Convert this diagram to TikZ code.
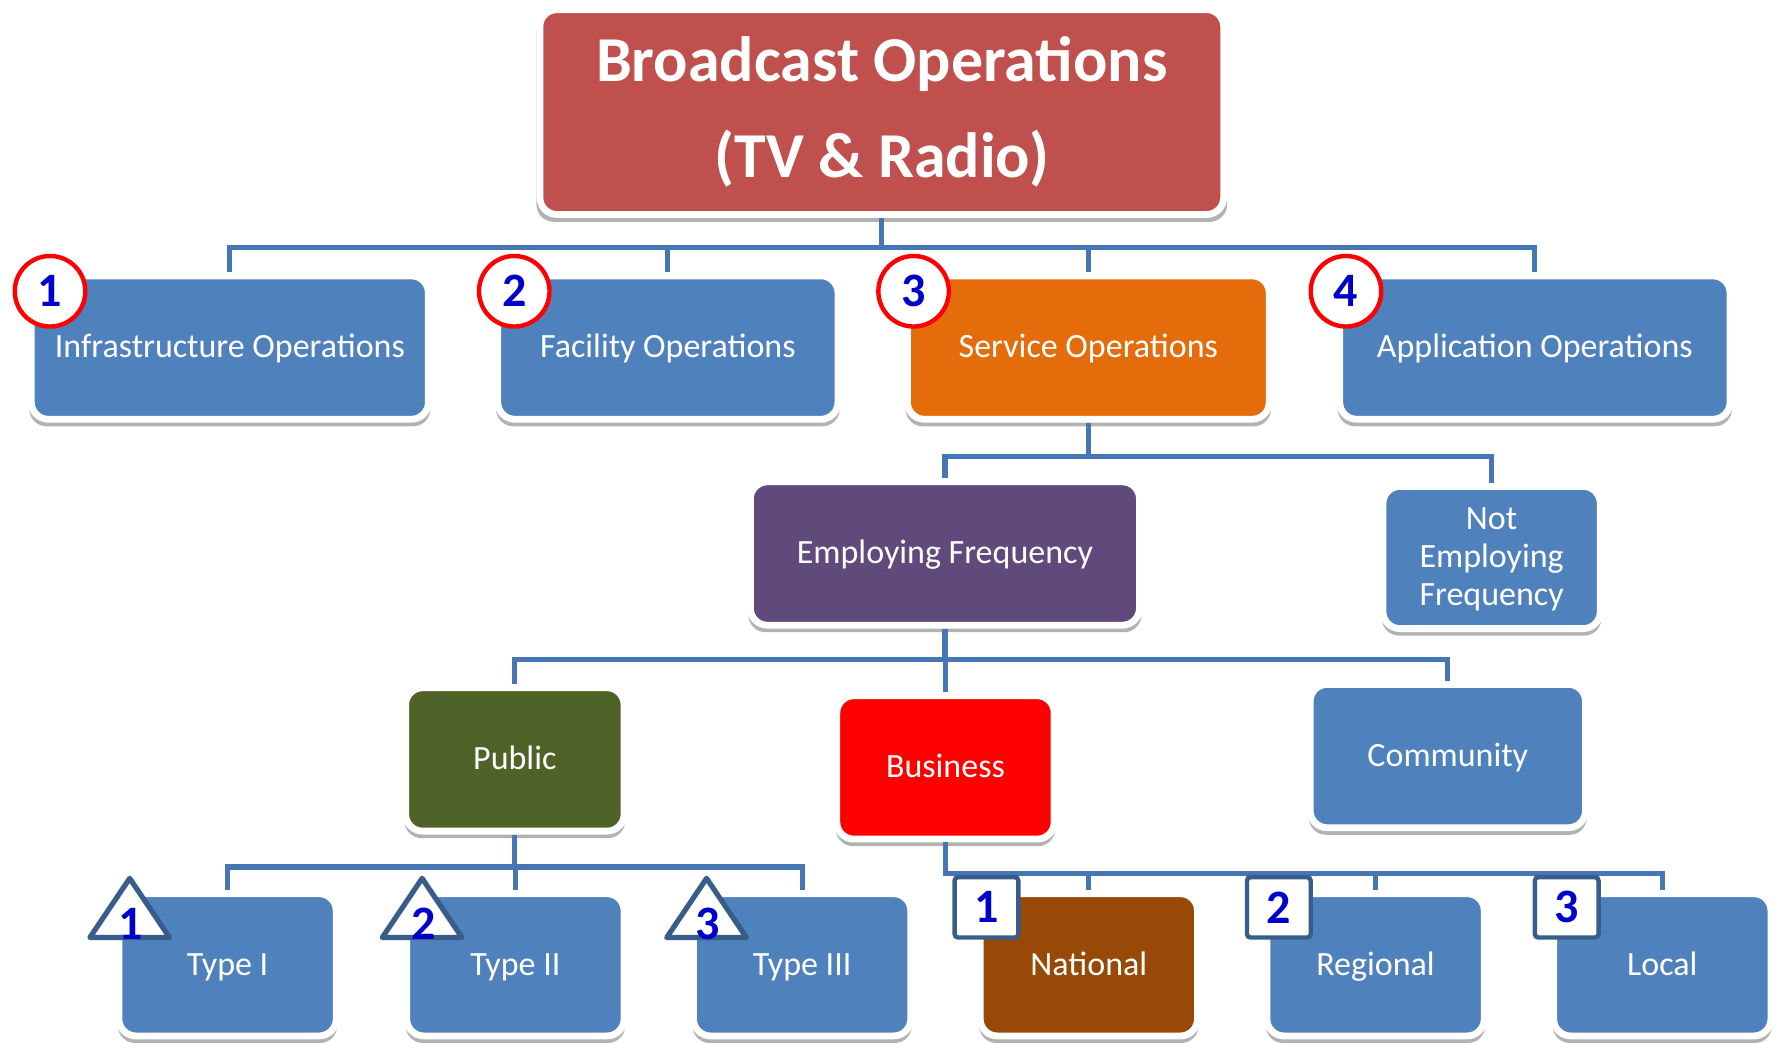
\documentclass[tikz,border=0pt]{standalone}
\usepackage{fontspec}
\setmainfont{Carlito}
\usetikzlibrary{shadows}
\definecolor{boxblue}{HTML}{4F81BD}
\definecolor{topred}{HTML}{C0504D}
\definecolor{servorange}{HTML}{E46C0A}
\definecolor{freqpurple}{HTML}{604A7B}
\definecolor{pubolive}{HTML}{4F6228}
\definecolor{natbrown}{HTML}{984807}
\definecolor{linecol}{HTML}{4776B4}
\definecolor{markcol}{HTML}{385D8A}
\definecolor{numblue}{HTML}{0000CC}
\tikzset{
  box/.style={draw=white, line width=1.7pt, rounded corners=1.5mm, text=white, align=center, inner sep=0pt,
    font=\fontsize{8.5}{9.5}\selectfont, text height=5.6pt, text depth=0.5pt,
    drop shadow={shadow xshift=0mm, shadow yshift=-0.55mm, shadow scale=1.01, opacity=0.3, fill=black}},
  conn/.style={draw=linecol, line width=1.3pt},
  numc/.style={circle, draw=red, fill=white, line width=1.1pt, minimum size=0.62cm, inner sep=0pt,
    text=numblue, font=\fontsize{12}{12}\selectfont\bfseries},
  nums/.style={rectangle, draw=markcol, fill=white, line width=1.1pt, rounded corners=0.3mm,
    minimum width=0.56cm, minimum height=0.53cm, inner sep=0pt,
    text=numblue, font=\fontsize{12}{12}\selectfont\bfseries},
  numt/.style={inner sep=0pt, text=numblue, font=\fontsize{12}{12}\selectfont\bfseries},
  tri/.style={draw=markcol, fill=white, line width=1.3pt, line join=round}
}
\begin{document}
\begin{tikzpicture}
\useasboundingbox (0,0) rectangle (15.68,-9.16);
\node[box, fill=topred, minimum width=6.01cm, minimum height=1.80cm, font=\fontsize{16}{24}\selectfont\bfseries, text height=32.6pt, text depth=0pt] (bo) at (7.75,-0.985) {Broadcast Operations\\(TV \& Radio)};
\node[box, fill=boxblue, minimum width=3.49cm, minimum height=1.26cm] (infra) at (2.02,-3.055) {Infrastructure Operations};
\node[box, fill=boxblue, minimum width=2.99cm, minimum height=1.26cm] (facil) at (5.87,-3.055) {Facility Operations};
\node[box, fill=servorange, minimum width=3.18cm, minimum height=1.26cm] (serv) at (9.565,-3.055) {Service Operations};
\node[box, fill=boxblue, minimum width=3.43cm, minimum height=1.26cm] (appl) at (13.49,-3.055) {Application Operations};
\node[box, fill=freqpurple, minimum width=3.42cm, minimum height=1.26cm] (empf) at (8.305,-4.865) {Employing Frequency};
\node[box, fill=boxblue, minimum width=1.91cm, minimum height=1.25cm, text height=24.6pt, text depth=0.5pt] (nempf) at (13.11,-4.90) {Not\\Employing\\Frequency};
\node[box, fill=pubolive, minimum width=1.92cm, minimum height=1.26cm] (pub) at (4.525,-6.675) {Public};
\node[box, fill=red, minimum width=1.91cm, minimum height=1.26cm] (biz) at (8.31,-6.745) {Business};
\node[box, fill=boxblue, minimum width=2.42cm, minimum height=1.26cm] (comm) at (12.725,-6.645) {Community};
\node[box, fill=boxblue, minimum width=1.91cm, minimum height=1.25cm] (t1) at (2.00,-8.48) {Type I};
\node[box, fill=boxblue, minimum width=1.91cm, minimum height=1.25cm] (t2) at (4.53,-8.48) {Type II};
\node[box, fill=boxblue, minimum width=1.91cm, minimum height=1.25cm] (t3) at (7.05,-8.48) {Type III};
\node[box, fill=natbrown, minimum width=1.91cm, minimum height=1.25cm] (nat) at (9.57,-8.48) {National};
\node[box, fill=boxblue, minimum width=1.91cm, minimum height=1.25cm] (reg) at (12.09,-8.48) {Regional};
\node[box, fill=boxblue, minimum width=1.91cm, minimum height=1.25cm] (loc) at (14.61,-8.48) {Local};
\draw[conn] (bo.south) -- ++(0,-0.26) -| (infra.north);
\draw[conn] (bo.south) -- ++(0,-0.26) -| (facil.north);
\draw[conn] (bo.south) -- ++(0,-0.26) -| (serv.north);
\draw[conn] (bo.south) -- ++(0,-0.26) -| (appl.north);
\draw[conn] (serv.south) -- ++(0,-0.295) -| (empf.north);
\draw[conn] (serv.south) -- ++(0,-0.295) -| (nempf.north);
\draw[conn] (empf.south) -- ++(0,-0.275) -| (pub.north);
\draw[conn] (empf.south) -- ++(0,-0.275) -| (biz.north);
\draw[conn] (empf.south) -- ++(0,-0.275) -| (comm.north);
\draw[conn] (pub.south) -- ++(0,-0.285) -| (t1.north);
\draw[conn] (pub.south) -- ++(0,-0.285) -| (t2.north);
\draw[conn] (pub.south) -- ++(0,-0.285) -| (t3.north);
\draw[conn] (biz.south) -- ++(0,-0.275) -| (nat.north);
\draw[conn] (biz.south) -- ++(0,-0.275) -| (reg.north);
\draw[conn] (biz.south) -- ++(0,-0.275) -| (loc.north);
\node[numc] (c1) at (0.44,-2.56) {1};
\node[numc] (c2) at (4.52,-2.56) {2};
\node[numc] (c3) at (8.03,-2.56) {3};
\node[numc] (c4) at (11.83,-2.56) {4};
\draw[tri] (0.79,-8.24) -- (1.14,-7.72) -- (1.49,-8.24) -- cycle;
\draw[tri] (3.36,-8.24) -- (3.71,-7.72) -- (4.06,-8.24) -- cycle;
\draw[tri] (5.86,-8.24) -- (6.21,-7.72) -- (6.56,-8.24) -- cycle;
\node[numt] (tn1) at (1.15,-8.12) {1};
\node[numt] (tn2) at (3.72,-8.12) {2};
\node[numt] (tn3) at (6.22,-8.12) {3};
\node[nums] (s1) at (8.67,-7.975) {1};
\node[nums] (s2) at (11.24,-7.975) {2};
\node[nums] (s3) at (13.77,-7.975) {3};
\end{tikzpicture}
\end{document}
